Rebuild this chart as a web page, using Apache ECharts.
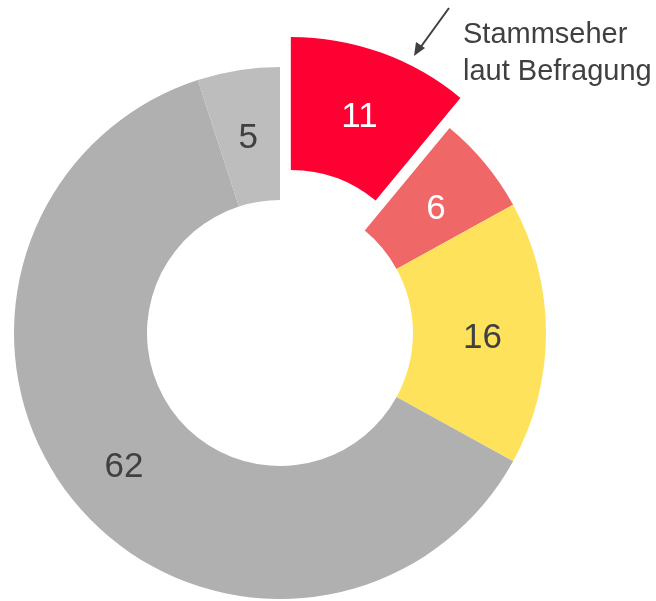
<!DOCTYPE html>
<html>
<head>
<meta charset="utf-8">
<script src="https://cdn.jsdelivr.net/npm/echarts@6/dist/echarts.min.js"></script>
<style>
  html, body { margin: 0; padding: 0; background: #fff; }
  #main { width: 656px; height: 601px; }
</style>
</head>
<body>
<div id="main"></div>
<script>
const categories = ["Stammseher", "B", "C", "D", "E"];
const values = [11, 6, 16, 62, 5];
const colors = ["#FF0033", "#F06767", "#FFE25C", "#B0B0B0", "#BDBDBD"];
const labelColors = ["#ffffff", "#ffffff", "#404040", "#404040", "#404040"];

const chartDom = document.getElementById("main");
const myChart = echarts.init(chartDom);

const option = {
  animation: false,
  backgroundColor: "#fff",
  series: [
    {
      type: "pie",
      center: [280, 333],
      radius: [133, 266],
      startAngle: 90,
      clockwise: true,
      selectedMode: "single",
      selectedOffset: 32,
      avoidLabelOverlap: false,
      emphasis: { disabled: true },
      label: {
        show: true,
        position: "inside",
        fontFamily: "Liberation Sans, Arial, sans-serif",
        fontSize: 35,
        formatter: "{c}"
      },
      labelLayout: { dy: 5 },
      labelLine: { show: false },
      data: values.map((v, i) => ({
        name: categories[i],
        value: v,
        selected: i === 0,
        itemStyle: { color: colors[i] },
        label: { color: labelColors[i] }
      }))
    }
  ],
  graphic: [
    {
      type: "line",
      shape: { x1: 449, y1: 8, x2: 420, y2: 48 },
      style: { stroke: "#404040", lineWidth: 2 }
    },
    {
      type: "polygon",
      shape: { points: [[414, 56], [416, 42], [425, 48]] },
      style: { fill: "#404040" }
    },
    {
      type: "text",
      left: 463,
      top: 16,
      style: {
        text: "Stammseher\nlaut Befragung",
        fill: "#404040",
        font: "29px Liberation Sans, Arial, sans-serif",
        lineHeight: 37
      }
    }
  ]
};
option && myChart.setOption(option);
</script>
</body>
</html>
